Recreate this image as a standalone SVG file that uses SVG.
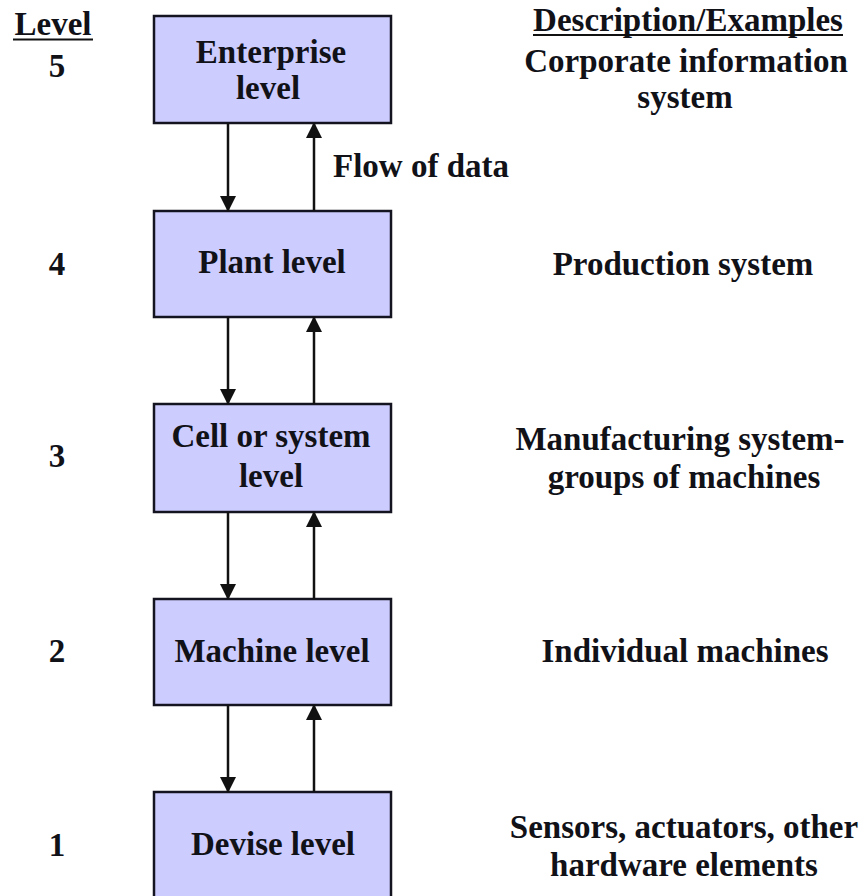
<svg xmlns="http://www.w3.org/2000/svg" width="865" height="896" viewBox="0 0 865 896">
<style>
.box{fill:#CCCCFF;stroke:#141420;stroke-width:2.5}
.t{font-family:"Liberation Serif","Times New Roman",serif;font-weight:bold;font-size:33px;fill:#111118;text-anchor:middle}
.tl{font-family:"Liberation Serif","Times New Roman",serif;font-weight:bold;font-size:33px;fill:#111118}
.c{stroke:#111;stroke-width:2.5;fill:none}
.u{stroke:#111;stroke-width:2}
</style>
<defs>
<marker id="ah" markerUnits="userSpaceOnUse" markerWidth="16" markerHeight="16" viewBox="0 0 16 16" refX="15" refY="8" orient="auto">
<path d="M0,0 L16,8 L0,16 Z" fill="#111"/>
</marker>
</defs>
<rect width="865" height="896" fill="#ffffff"/>
<g id="headers">
<text class="t" x="53" y="35">Level</text>
<line class="u" x1="13" y1="39.5" x2="93" y2="39.5"/>
<text class="t" x="688" y="31">Description/Examples</text>
<line class="u" x1="533" y1="35" x2="843" y2="35"/>
</g>
<g id="level-numbers">
<text class="t" x="57" y="77">5</text>
<text class="t" x="57" y="275">4</text>
<text class="t" x="57" y="467">3</text>
<text class="t" x="57" y="662">2</text>
<text class="t" x="57" y="856">1</text>
</g>
<g id="enterprise">
<rect class="box" x="154" y="16" width="237" height="107"/>
<text class="t" x="271" y="63">Enterprise</text>
<text class="t" x="268" y="99">level</text>
</g>
<g id="plant">
<rect class="box" x="154" y="211" width="237" height="106"/>
<text class="t" x="272" y="273">Plant level</text>
</g>
<g id="cell">
<rect class="box" x="154" y="404" width="237" height="108"/>
<text class="t" x="271" y="447">Cell or system</text>
<text class="t" x="271" y="487">level</text>
</g>
<g id="machine">
<rect class="box" x="154" y="599" width="237" height="106"/>
<text class="t" x="272" y="662">Machine level</text>
</g>
<g id="devise">
<rect class="box" x="154" y="792" width="237" height="110"/>
<text class="t" x="273" y="855">Devise level</text>
</g>
<g id="descriptions">
<text class="t" x="686" y="72">Corporate information</text>
<text class="t" x="685" y="108">system</text>
<text class="t" x="683" y="275">Production system</text>
<text class="t" x="680" y="450">Manufacturing system-</text>
<text class="t" x="684" y="488">groups of machines</text>
<text class="t" x="685" y="662">Individual machines</text>
<text class="t" x="684" y="838">Sensors, actuators, other</text>
<text class="t" x="684" y="876">hardware elements</text>
</g>
<g id="connectors">
<line class="c" x1="228" y1="123" x2="228" y2="211" marker-end="url(#ah)"/>
<line class="c" x1="314" y1="211" x2="314" y2="123" marker-end="url(#ah)"/>
<line class="c" x1="228" y1="317" x2="228" y2="404" marker-end="url(#ah)"/>
<line class="c" x1="314" y1="404" x2="314" y2="317" marker-end="url(#ah)"/>
<line class="c" x1="228" y1="512" x2="228" y2="599" marker-end="url(#ah)"/>
<line class="c" x1="314" y1="599" x2="314" y2="512" marker-end="url(#ah)"/>
<line class="c" x1="228" y1="705" x2="228" y2="792" marker-end="url(#ah)"/>
<line class="c" x1="314" y1="792" x2="314" y2="705" marker-end="url(#ah)"/>
<text class="tl" x="333" y="177" id="flow-label">Flow of data</text>
</g>
</svg>
